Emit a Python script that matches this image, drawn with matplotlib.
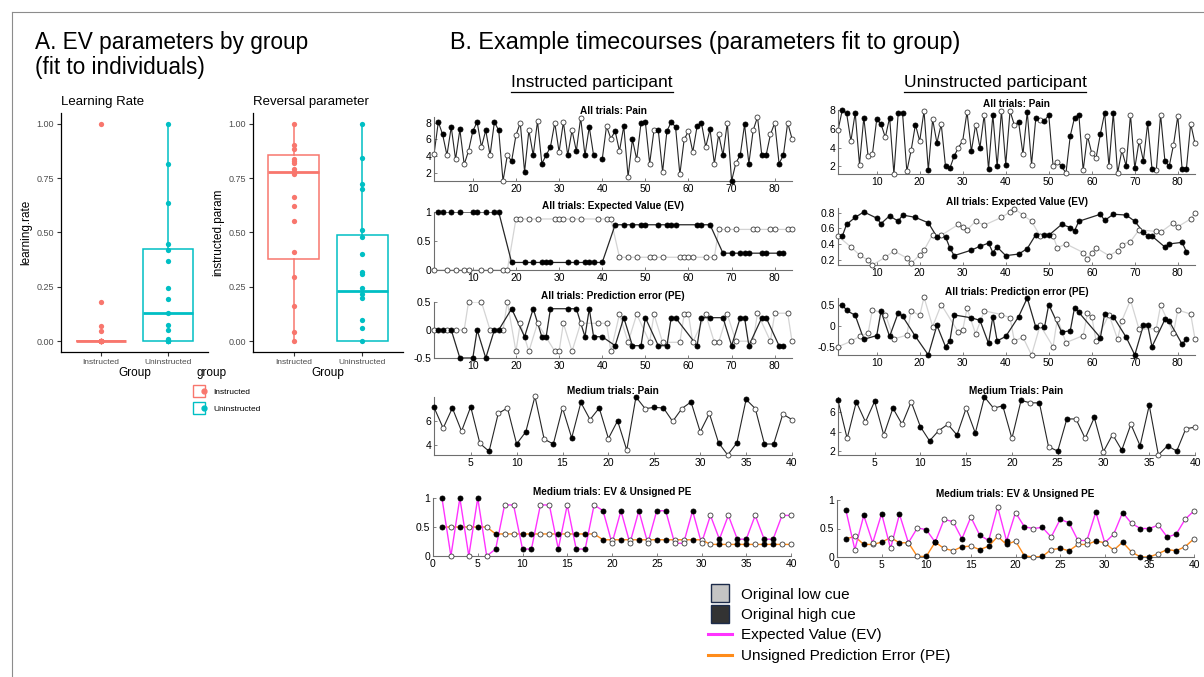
import matplotlib
matplotlib.use('Agg')
import matplotlib.pyplot as plt
import numpy as np
from matplotlib.lines import Line2D
from matplotlib.legend_handler import HandlerTuple

matplotlib.rcParams['font.family'] = ['Liberation Sans', 'DejaVu Sans']

W, H = 1204, 677

# ---------------- panel A data ----------------
groups = ['Instructed', 'Uninstructed']
group_colors = ['#F8766D', '#00BFC4']

lr_instructed = [1.0, 0.18, 0.07, 0.045, 0, 0, 0, 0, 0, 0, 0, 0, 0, 0, 0, 0, 0]
lr_uninstructed = [1.0, 0.815, 0.635, 0.445, 0.42, 0.37, 0.245, 0.195, 0.13,
                   0.075, 0.05, 0.01, 0, 0, 0, 0, 0]
# whislo, q1, median, q3, whishi
lr_box = [[0, 0, 0, 0, 0], [0, 0, 0.13, 0.425, 1.0]]

rev_instructed = [1.0, 0.905, 0.885, 0.84, 0.83, 0.82, 0.79, 0.78, 0.77, 0.665,
                  0.62, 0.555, 0.41, 0.295, 0.16, 0.04, 0.0]
rev_uninstructed = [1.0, 0.845, 0.725, 0.70, 0.51, 0.48, 0.40, 0.32, 0.31, 0.245,
                    0.215, 0.20, 0.095, 0.06, 0.0]
rev_box = [[0, 0.38, 0.78, 0.855, 1.0], [0, 0, 0.23, 0.49, 1.0]]

# ---------------- panel B data ----------------
# 1 = original high cue (filled), 0 = original low cue (open)
cue_all = [0, 1, 1, 0, 1, 0, 1, 0, 0, 1,
           1, 0, 1, 0, 1, 1, 0, 0, 1, 0,
           0, 1, 0, 1, 0, 1, 1, 1, 0, 0,
           0, 1, 0, 1, 0, 1, 1, 1, 0, 1,
           0, 0, 1, 0, 1, 0, 1, 0, 1, 1,
           0, 0, 1, 0, 1, 1, 1, 0, 0, 0,
           0, 1, 1, 0, 1, 0, 0, 1, 0, 1,
           0, 1, 1, 1, 0, 0, 1, 1, 0, 0,
           1, 1, 0, 0]
cue_med = [1, 0, 1, 0, 1, 0, 1, 0, 0, 1,
           1, 0, 0, 1, 0, 1, 1, 0, 1, 0,
           1, 0, 1, 0, 1, 1, 0, 0, 1, 0,
           0, 1, 0, 1, 1, 0, 1, 1, 0, 0]

ins_pain = [4.2, 8.1, 6.6, 4.1, 7.5, 3.6, 7.2, 3.0, 4.6, 7.0,
            8.1, 5.1, 7.1, 4.1, 8.1, 7.1, 1.0, 4.1, 3.4, 6.5,
            8.0, 2.1, 7.1, 4.1, 8.2, 3.1, 4.1, 5.1, 8.0, 4.5,
            8.1, 4.1, 7.1, 4.6, 8.6, 4.1, 7.5, 4.1, np.nan, 3.6,
            7.6, 6.1, 7.0, 4.6, 7.6, 1.5, 6.0, 3.6, 8.0, 8.1,
            3.1, 7.1, 7.1, 2.1, 7.0, 8.1, 7.5, 1.8, 6.0, 7.0,
            4.5, 7.6, 8.0, 5.1, 7.2, 3.1, 6.6, 4.1, 8.0, 1.0,
            3.2, 4.1, 7.8, 3.1, 7.1, 8.7, 4.1, 4.1, 6.6, 8.0,
            3.1, 4.1, 8.0, 6.1]
ins_ev = [0, 1, 1, 0, 1, 0, 1, 0, 0, 1,
          1, 0, 1, 0, 1, 1, 0, 0, .13, .88,
          .88, .13, .88, .13, .88, .13, .13, .13, .88, .88,
          .88, .13, .88, .13, .88, .13, .13, .13, .88, .13,
          .88, .88, .78, .22, .78, .22, .78, .22, .78, .78,
          .22, .22, .78, .22, .78, .78, .78, .22, .22, .22,
          .22, .78, .78, .22, .78, .22, .70, .29, .70, .29,
          .70, .29, .29, .29, .70, .70, .29, .29, .70, .70,
          .29, .29, .70, .70]
ins_pe = [0, 0, 0, 0, 0, 0, -.5, 0, .5, -.5,
          0, .5, -.5, 0, 0, 0, 0, .5, .38, -.38,
          .12, -.12, -.38, .38, .12, -.12, -.12, .38, -.38, -.38,
          .12, .38, -.38, .38, .12, -.12, .38, -.12, .12, -.12,
          .12, -.38, -.28, .28, .22, -.22, -.28, .28, -.28, .22,
          -.22, .28, -.28, -.22, -.28, .22, .22, -.22, .28, .28,
          -.22, -.28, .22, .28, .22, -.22, -.22, .22, .28, -.28,
          -.2, .22, .22, -.28, -.2, .3, .22, .22, -.2, .3,
          -.28, -.28, .3, -.2]
ins_med_pain = [7.1, 5.4, 7.05, 5.15, 7.15, 4.15, 3.5, 6.6, 7.05, 4.1,
                5.1, 8.0, 4.5, 4.1, 7.05, 4.6, 7.5, 6.1, 7.05, 4.55,
                6.0, 3.6, 7.95, 7.0, 7.1, 7.05, 5.95, 7.0, 7.55, 5.1,
                6.6, 4.2, 3.2, 4.2, 7.75, 7.0, 4.1, 4.1, 6.55, 6.1]
ins_med_ev = [1, 0, 1, 0, 1, 0, .12, .88, .88, .12,
              .12, .88, .88, .12, .88, .12, .12, .88, .78, .22,
              .78, .22, .78, .22, .78, .78, .22, .22, .78, .22,
              .70, .29, .70, .29, .29, .70, .29, .29, .70, .70]
ins_med_pe = [.5, .5, .5, .5, .5, .5, .38, .38, .38, .38,
              .38, .38, .38, .38, .38, .38, .38, .38, .28, .28,
              .28, .28, .28, .28, .28, .28, .28, .28, .28, .28,
              .2, .2, .2, .2, .2, .2, .2, .2, .2, .2]

uni_pain = [5.85, 8.0, 7.65, 4.7, 7.7, 2.2, 7.2, 3.1, 3.3, 7.0,
            6.5, 5.1, 7.2, 1.2, 7.7, 7.7, 1.5, 3.7, 6.45, 4.7,
            7.9, 1.6, 7.0, 4.5, 6.5, 2.0, 1.8, 3.1, 4.0, 4.75,
            7.8, 3.6, 6.45, 4.0, 7.5, 1.7, 7.5, 2.0, 7.9, 2.2,
            7.9, 6.4, 6.7, 3.3, 7.8, 2.2, 7.2, 6.9, 6.85, 7.5,
            2.1, 2.5, 2.0, 1.3, 5.25, 7.2, 7.5, 1.6, 5.25, 3.4,
            2.9, 5.45, 7.7, 2.0, 7.7, 1.3, 3.7, 2.05, 7.5, 1.8,
            4.7, 2.6, 6.6, 1.75, 1.6, 7.5, 2.6, 2.0, 4.3, 7.35,
            1.75, 1.75, 6.55, 4.45]
uni_ev = [.5, .5, .65, .36, .74, .26, .81, .19, .13, .73,
          .66, .23, .76, .31, .69, .77, .22, .15, .74, .26,
          .32, .67, .52, .49, .51, .49, .35, .25, .65, .62,
          .58, .32, .69, .37, .64, .41, .29, .36, .74, .25,
          .81, .85, .27, .77, .34, .69, .52, .50, .51, .51,
          .50, .35, .65, .40, .61, .57, .69, .29, .21, .29,
          .35, .78, .70, .25, .78, .31, .39, .77, .43, .69,
          .58, .55, .50, .50, .56, .55, .36, .40, .67, .62,
          .42, .30, .72, .80]
uni_pe = [-.5, .52, .38, -.37, .26, -.25, -.32, -.17, .4, -.23,
          .36, .28, -.25, -.31, .32, .24, -.22, .37, -.25, .26,
          .7, -.7, -.01, .02, .52, -.5, -.36, .27, -.15, -.09,
          .43, .2, -.19, .14, .37, -.42, .23, -.36, .28, -.25,
          .2, -.36, .23, -.27, .68, -.7, -.03, .02, -.03, .52,
          -.5, .18, -.15, -.4, -.11, .45, .33, -.23, .31, .23,
          -.36, -.28, .3, .28, .23, -.32, .13, -.27, .63, -.7,
          -.08, .02, .02, -.5, -.06, .5, .16, .12, -.17, .39,
          -.44, -.31, .29, -.31]
uni_med_pain = [7.2, 3.3, 7.05, 5.0, 7.1, 3.65, 6.4, 4.75, 7.05, 4.5,
                3.05, 4.1, 4.75, 3.65, 6.4, 3.85, 7.55, 6.4, 6.65, 3.3,
                7.2, 6.95, 6.95, 2.45, 2.0, 5.3, 5.3, 3.3, 5.45, 1.95,
                3.7, 2.1, 4.75, 2.55, 6.7, 1.6, 2.55, 2.0, 4.3, 4.45]
uni_med_ev = [.82, .13, .73, .25, .76, .15, .75, .25, .51, .48,
              .26, .66, .62, .32, .70, .38, .29, .88, .28, .78,
              .53, .50, .52, .35, .66, .60, .29, .29, .79, .25,
              .40, .78, .59, .50, .50, .56, .35, .40, .66, .81]
uni_med_pe = [.32, .36, .22, .22, .26, .34, .25, .25, .01, .01,
              .26, .15, .11, .18, .19, .13, .19, .36, .22, .28,
              .02, 0, .01, .13, .15, .11, .22, .22, .28, .25,
              .12, .26, .09, 0, 0, .06, .13, .11, .18, .32]

EV_COL = '#FF33FF'
PE_COL = '#FF8C1A'
LINE_DARK = '#262626'
LINE_LIGHT = '#d4d4d4'

fig = plt.figure(figsize=(W / 100, H / 100), dpi=100)


def px_axes(x0, x1, y0, y1):
    return fig.add_axes([x0 / W, 1 - y1 / H, (x1 - x0) / W, (y1 - y0) / H])


# ---------------- panel A ----------------
def group_panel(ax, title, ylabel, points, stats):
    for i, col in enumerate(group_colors):
        lo, q1, med, q3, hi = stats[i]
        ax.bxp([dict(whislo=lo, q1=q1, med=med, q3=q3, whishi=hi, fliers=[])],
               positions=[i + 1], widths=0.75, showcaps=False, showfliers=False,
               patch_artist=True,
               boxprops=dict(facecolor='white', edgecolor=col, lw=1.1),
               medianprops=dict(color=col, lw=2.0),
               whiskerprops=dict(color=col, lw=1.1))
        ax.plot(np.full(len(points[i]), i + 1), points[i], 'o', color=col,
                ms=3.8, mec='none', zorder=5)
    ax.set_xlim(0.4, 2.6)
    ax.set_ylim(-0.05, 1.05)
    ax.set_yticks([0, 0.25, 0.5, 0.75, 1.0])
    ax.set_yticklabels(['0.00', '0.25', '0.50', '0.75', '1.00'])
    ax.set_xticks([1, 2])
    ax.set_xticklabels(groups)
    for s in ['top', 'right']:
        ax.spines[s].set_visible(False)
    for s in ['left', 'bottom']:
        ax.spines[s].set_linewidth(0.9)
    ax.tick_params(axis='y', labelsize=6.5, colors='#333333', length=3, pad=2,
                   labelcolor='#4d4d4d')
    ax.tick_params(axis='x', labelsize=6.0, colors='#333333', length=3, pad=2,
                   labelcolor='#4d4d4d')
    ax.set_xlabel('Group', fontsize=8.5, labelpad=1)
    ax.set_ylabel(ylabel, fontsize=8.5, labelpad=3)
    ax.set_title(title, fontsize=9.5, loc='left', pad=6)


axA1 = px_axes(61, 208, 113, 352)
group_panel(axA1, 'Learning Rate', 'learning.rate',
            [lr_instructed, lr_uninstructed], lr_box)
axA2 = px_axes(253, 403, 113, 352)
group_panel(axA2, 'Reversal parameter', 'instructed.param',
            [rev_instructed, rev_uninstructed], rev_box)

# ggplot-like legend
handles = [(Line2D([], [], marker='s', ms=8, mfc='white', mec=c, mew=1.0, ls='none'),
            Line2D([], [], marker='o', ms=3.5, color=c, ls='none')) for c in group_colors]
legA = fig.legend(handles, groups, loc='upper left', bbox_to_anchor=(189 / W, 1 - 359 / H),
                  frameon=False, fontsize=6.0, title='group', title_fontsize=8.5,
                  handler_map={tuple: HandlerTuple(ndivide=None, pad=0)},
                  handlelength=1.2, handletextpad=0.8, labelspacing=1.1)
legA._legend_box.align = 'left'


# ---------------- panel B ----------------
def style_b(ax, title, xlim, xticks, ylim, yticks):
    ax.set_xlim(*xlim)
    ax.set_ylim(*ylim)
    ax.set_xticks(xticks)
    ax.set_yticks(yticks)
    ax.set_yticklabels([('%g' % v) for v in yticks])
    for s in ['top', 'right']:
        ax.spines[s].set_visible(False)
    for s in ['left', 'bottom']:
        ax.spines[s].set_linewidth(0.8)
        ax.spines[s].set_color('#6e6e6e')
    ax.tick_params(direction='in', length=2.5, width=0.6, labelsize=7.5, pad=2,
                   colors='#6e6e6e', labelcolor='black')
    ax.set_title(title, fontsize=7.2, fontweight='bold', pad=2)
    ax.patch.set_alpha(0)


def markers(ax, x, y, cue):
    x = np.asarray(x)
    y = np.asarray(y, dtype=float)
    cue = np.asarray(cue, dtype=bool)
    ax.plot(x[~cue], y[~cue], 'o', ms=3.6, mfc='white', mec='#3a3a3a', mew=0.6,
            ls='none', zorder=4, clip_on=False)
    ax.plot(x[cue], y[cue], 'o', ms=3.6, mfc='black', mec='black', mew=0.6,
            ls='none', zorder=4, clip_on=False)


def pain_panel(ax, vals, cue):
    x = np.arange(1, len(vals) + 1)
    ax.plot(x, vals, color=LINE_DARK, lw=0.8, zorder=2)
    markers(ax, x, vals, cue)


def split_panel(ax, vals, cue):
    x = np.arange(1, len(vals) + 1)
    v = np.asarray(vals, dtype=float)
    c = np.asarray(cue, dtype=bool)
    ax.plot(x[~c], v[~c], color=LINE_LIGHT, lw=0.9, zorder=1)
    ax.plot(x[c], v[c], color=LINE_DARK, lw=0.9, zorder=2)
    markers(ax, x, v, c)


def evpe_panel(ax, ev, pe, cue):
    x = np.arange(1, len(ev) + 1)
    ax.plot(x, pe, color=PE_COL, lw=1.0, zorder=2)
    ax.plot(x, ev, color=EV_COL, lw=1.0, zorder=3)
    markers(ax, x, pe, cue)
    markers(ax, x, ev, cue)


cols = [
    dict(x0=434, x1=792, rows=[(117, 181), (212, 270), (302, 358), (397, 455), (498, 556)],
         pain=ins_pain, ev=ins_ev, pe=ins_pe, mpain=ins_med_pain, mev=ins_med_ev,
         mpe=ins_med_pe,
         lims=[(1, 8.7), (0, 1), (-0.5, 0.5), (3.2, 7.95), (0, 1)],
         ticks=[[2, 4, 6, 8], [0, 0.5, 1], [-0.5, 0, 0.5], [4, 6], [0, 0.5, 1]],
         mtitle='Medium trials: Pain'),
    dict(x0=838, x1=1195, rows=[(110, 174), (208, 265), (298, 355), (397, 455), (500, 557)],
         pain=uni_pain, ev=uni_ev, pe=uni_pe, mpain=uni_med_pain, mev=uni_med_ev,
         mpe=uni_med_pe,
         lims=[(1.2, 8.0), (0.13, 0.86), (-0.7, 0.68), (1.6, 7.55), (0, 1)],
         ticks=[[2, 4, 6, 8], [0.2, 0.4, 0.6, 0.8], [-0.5, 0, 0.5], [2, 4, 6], [0, 0.5, 1]],
         mtitle='Medium Trials: Pain'),
]

for c in cols:
    r = c['rows']
    ax = px_axes(c['x0'], c['x1'], *r[0])
    pain_panel(ax, c['pain'], cue_all)
    style_b(ax, 'All trials: Pain', (1, 84), range(10, 81, 10), c['lims'][0], c['ticks'][0])

    ax = px_axes(c['x0'], c['x1'], *r[1])
    split_panel(ax, c['ev'], cue_all)
    style_b(ax, 'All trials: Expected Value (EV)', (1, 84), range(10, 81, 10),
            c['lims'][1], c['ticks'][1])

    ax = px_axes(c['x0'], c['x1'], *r[2])
    split_panel(ax, c['pe'], cue_all)
    style_b(ax, 'All trials: Prediction error (PE)', (1, 84), range(10, 81, 10),
            c['lims'][2], c['ticks'][2])

    ax = px_axes(c['x0'], c['x1'], *r[3])
    pain_panel(ax, c['mpain'], cue_med)
    style_b(ax, c['mtitle'], (1, 40), range(5, 41, 5), c['lims'][3], c['ticks'][3])

    ax = px_axes(c['x0'] - 1, c['x1'] - 1, *r[4])
    evpe_panel(ax, c['mev'], c['mpe'], cue_med)
    style_b(ax, 'Medium trials: EV & Unsigned PE', (0, 40), range(0, 41, 5),
            c['lims'][4], c['ticks'][4])

# ---------------- titles ----------------
fig.text(35 / W, 1 - 31 / H, 'A. EV parameters by group\n(fit to individuals)',
         fontsize=16.3, va='top', ha='left', linespacing=1.1)
fig.text(450 / W, 1 - 31 / H, 'B. Example timecourses (parameters fit to group)',
         fontsize=16.8, va='top', ha='left')
sub1 = fig.text(592 / W, 1 - 83 / H, 'Instructed participant', fontsize=12.5,
                ha='center', va='center')
sub2 = fig.text(995 / W, 1 - 83 / H, 'Uninstructed participant', fontsize=12.5,
                ha='center', va='center')

fig.canvas.draw()
rend = fig.canvas.get_renderer()
for t in (sub1, sub2):
    bb = t.get_window_extent(rend)
    yb = (bb.y0 - 1) / H
    fig.add_artist(Line2D([bb.x0 / W, bb.x1 / W], [yb, yb], color='black', lw=0.9))

# frame
fig.add_artist(Line2D([12 / W, 1], [1 - 12 / H, 1 - 12 / H], color='#8c8c8c', lw=0.8))
fig.add_artist(Line2D([12 / W, 12 / W], [0, 1 - 12 / H], color='#8c8c8c', lw=0.8))

# ---------------- bottom legend ----------------
leg_handles = [
    Line2D([], [], marker='s', ms=13, mfc='#c4c4c4', mec='#1c2b4a', mew=1.0, ls='none'),
    Line2D([], [], marker='s', ms=13, mfc='#333333', mec='#1c2b4a', mew=1.0, ls='none'),
    Line2D([], [], color=EV_COL, lw=2.2),
    Line2D([], [], color=PE_COL, lw=2.2),
]
leg_labels = ['Original low cue', 'Original high cue', 'Expected Value (EV)',
              'Unsigned Prediction Error (PE)']
fig.legend(leg_handles, leg_labels, loc='upper left', bbox_to_anchor=(700 / W, 1 - 580 / H),
           frameon=False, fontsize=11, handlelength=1.6, handletextpad=0.6,
           labelspacing=0.42, borderpad=0)

fig.savefig('out.png', dpi=100)
